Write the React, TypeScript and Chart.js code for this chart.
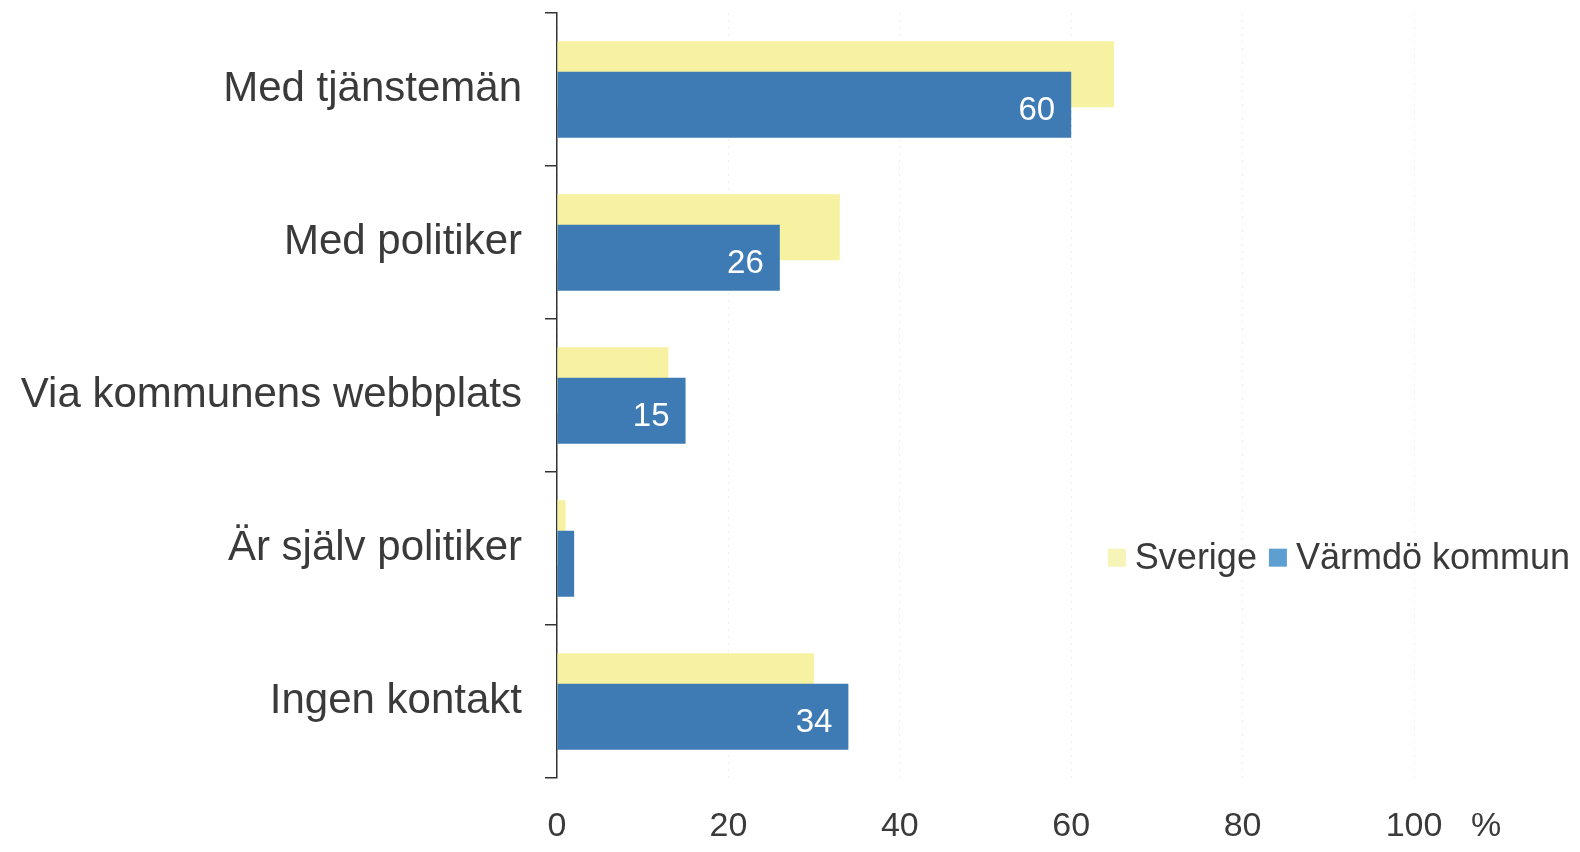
import React, { useEffect, useRef } from 'react';
import { Chart, registerables } from 'chart.js';

Chart.register(...registerables);

const categories = ['Med tjänstemän', 'Med politiker', 'Via kommunens webbplats', 'Är själv politiker', 'Ingen kontakt'];
const sverigeValues = [65, 33, 13, 1, 30];
const varmdoValues = [60, 26, 15, 2, 34];
const seriesNames = ['Sverige', 'Värmdö kommun'];
const xMin = 0;
const xMax = 100;
const xStep = 20;
const unitLabel = '%';

const FONT = '"Liberation Sans", Arial, sans-serif';
const TEXT = '#3a3a3a';
const YELLOW = '#f7f2a2';
const BLUE = '#3e7bb4';
const LEGEND_COLORS = ['#f7f4b8', '#5e9fd2'];

// draw the yellow (upper) bars underneath the blue ones
const drawOrderPlugin = {
  id: 'drawOrder',
  beforeDatasetsDraw(chart: any) {
    const meta = chart.getDatasetMeta(0);
    if (meta && meta.controller) meta.controller.draw();
  },
  beforeDatasetDraw(chart: any, args: any) {
    if (args.index === 0) return false;
    return true;
  },
};

const valueLabelPlugin = {
  id: 'valueLabels',
  afterDatasetsDraw(chart: any) {
    const ctx = chart.ctx;
    const meta = chart.getDatasetMeta(1);
    ctx.save();
    ctx.font = `33px ${FONT}`;
    ctx.fillStyle = '#ffffff';
    ctx.textAlign = 'right';
    ctx.textBaseline = 'middle';
    meta.data.forEach((el: any, i: number) => {
      const v = varmdoValues[i];
      if (v >= 5) ctx.fillText(String(v), el.x - 16, el.y + 6);
    });
    ctx.restore();
  },
};

const legendPlugin = {
  id: 'customLegend',
  afterDraw(chart: any) {
    const ctx = chart.ctx;
    const area = chart.chartArea;
    ctx.save();
    ctx.font = `36px ${FONT}`;
    ctx.textBaseline = 'middle';
    ctx.textAlign = 'left';
    const sq = 18;
    const gapText = 9;
    const gapItem = 12;
    const widths = seriesNames.map((n) => ctx.measureText(n).width);
    const total = widths.reduce((a, w) => a + sq + gapText + w, 0) + gapItem * (seriesNames.length - 1);
    let x = chart.width - 10 - total;
    const y = area.top + area.height * 0.712;
    seriesNames.forEach((name, i) => {
      ctx.fillStyle = LEGEND_COLORS[i];
      ctx.fillRect(x, y - sq / 2, sq, sq);
      x += sq + gapText;
      ctx.fillStyle = TEXT;
      ctx.fillText(name, x, y + 1);
      x += widths[i] + gapItem;
    });
    // unit label next to last x tick
    const xs = chart.scales.x;
    ctx.font = `34px ${FONT}`;
    ctx.textAlign = 'center';
    ctx.textBaseline = 'middle';
    ctx.fillText(unitLabel, xs.getPixelForValue(xMax) + 72, xs.top + 28 + 20.4);
    ctx.restore();
  },
};

export default function App() {
  const ref = useRef<HTMLCanvasElement | null>(null);

  useEffect(() => {
    document.body.style.margin = '0';
    const canvas = ref.current;
    if (!canvas) return;
    const chart = new Chart(canvas, {
      type: 'bar',
      data: {
        labels: categories,
        datasets: [
          {
            label: seriesNames[0],
            data: sverigeValues,
            backgroundColor: YELLOW,
            borderWidth: 0,
            categoryPercentage: 0.4,
            barPercentage: 2.16,
          },
          {
            label: seriesNames[1],
            data: varmdoValues,
            backgroundColor: BLUE,
            borderWidth: 0,
            categoryPercentage: 0.4,
            barPercentage: 2.16,
          },
        ],
      },
      options: {
        indexAxis: 'y',
        responsive: false,
        animation: false,
        devicePixelRatio: 1,
        layout: { padding: { left: 0, right: 166, top: 13, bottom: 0 } },
        plugins: {
          legend: { display: false },
          tooltip: { enabled: false },
        },
        scales: {
          x: {
            type: 'linear',
            min: xMin,
            max: xMax,
            ticks: {
              stepSize: xStep,
              font: { size: 34, family: FONT },
              color: TEXT,
              padding: 28,
            },
            grid: {
              color: 'rgba(0,0,0,0.07)',
              drawTicks: false,
              lineWidth: 1,
            },
            border: { display: false, dash: [2, 5] },
            afterFit: (scale: any) => {
              scale.height = 852 - 778;
            },
          },
          y: {
            type: 'category',
            offset: true,
            ticks: {
              font: { size: 42, family: FONT },
              color: TEXT,
              padding: 23,
              labelOffset: 0,
            },
            grid: {
              offset: true,
              drawOnChartArea: false,
              drawTicks: true,
              tickLength: 12,
              color: '#333333',
              lineWidth: 1.5,
            },
            border: { display: true, color: '#333333', width: 1.5 },
            afterFit: (scale: any) => {
              scale.width = 557;
              scale.paddingTop = 0;
              scale.paddingBottom = 0;
            },
          },
        },
      },
      plugins: [drawOrderPlugin, valueLabelPlugin, legendPlugin],
    });
    return () => chart.destroy();
  }, []);

  return (
    <div style={{ position: 'absolute', left: 0, top: 0, width: 1580, height: 852, background: '#ffffff' }}>
      <canvas ref={ref} width={1580} height={852} style={{ display: 'block' }} />
    </div>
  );
}
